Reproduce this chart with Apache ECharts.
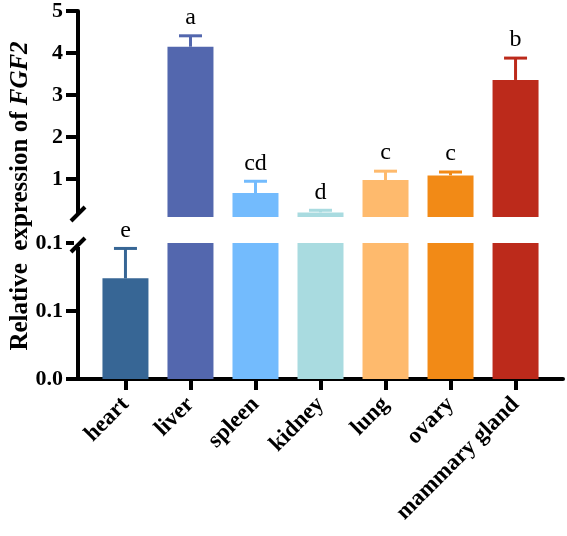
<!DOCTYPE html>
<html>
<head>
<meta charset="utf-8">
<script src="https://cdn.jsdelivr.net/npm/echarts@6/dist/echarts.min.js"></script>
<style>
  html, body { margin: 0; padding: 0; background: #fff; }
  #chart { width: 567px; height: 536px; }
</style>
</head>
<body>
<div id="chart"></div>
<script>
// tissues and FGF2 relative expression (mean, SD)
var categories = ['heart', 'liver', 'spleen', 'kidney', 'lung', 'ovary', 'mammary gland'];
var means = [0.074, 4.15, 0.67, 0.21, 0.98, 1.09, 3.36];
var errs = [0.022, 0.26, 0.28, 0.05, 0.21, 0.08, 0.52];
var letters = ['e', 'a', 'cd', 'd', 'c', 'c', 'b'];
var colors = ['#376695', '#5367ae', '#73bbfd', '#a9dbe0', '#feba6d', '#f28a16', '#bc2a1b'];
var upperTicks = [1, 2, 3, 4, 5];
var lowerTicks = [0, 0.05, 0.1];

var breakAt = 0.1;   // axis is split here
var FONT = '"Liberation Serif", "DejaVu Serif", serif';

// grids: upper 0.1-5, lower 0-0.1
var gridUp = { left: 78, right: 4, top: 10, bottom: 319 };
var gridLo = { left: 78, right: 4, top: 243, bottom: 157 };

var barData = means.map(function (v, i) {
  return { value: [i, v], itemStyle: { color: colors[i] } };
});
var errData = means.map(function (v, i) { return [i, v, v + errs[i]]; });
var errUp = errData.filter(function (d) { return d[2] >= breakAt; });
var errLo = errData.filter(function (d) { return d[2] < breakAt; });

function renderErr(params, api) {
  var i = api.value(0);
  var p0 = api.coord([i, api.value(1)]);
  var p1 = api.coord([i, api.value(2)]);
  var c = colors[i];
  return {
    type: 'group',
    children: [
      { type: 'line', shape: { x1: p0[0], y1: p0[1], x2: p1[0], y2: p1[1] }, style: { stroke: c, lineWidth: 3 } },
      { type: 'line', shape: { x1: p1[0] - 11.5, y1: p1[1], x2: p1[0] + 11.5, y2: p1[1] }, style: { stroke: c, lineWidth: 3 } },
      { type: 'text', style: { text: letters[i], x: p1[0], y: p1[1] - 6, align: 'center', verticalAlign: 'bottom',
        fontSize: 24, fontFamily: FONT, fill: '#000' } }
    ]
  };
}

var xCommon = {
  type: 'value', min: -0.73, max: 6.73,
  splitLine: { show: false }
};

var chart = echarts.init(document.getElementById('chart'));
chart.setOption({
  animation: false,
  grid: [gridUp, gridLo],
  xAxis: [
    Object.assign({ gridIndex: 0, show: false }, xCommon),
    Object.assign({
      gridIndex: 1,
      axisLine: { show: true, lineStyle: { color: '#000', width: 4 } },
      axisTick: { show: true, length: 11, customValues: [0, 1, 2, 3, 4, 5, 6], lineStyle: { color: '#000', width: 4 } },
      axisLabel: {
        customValues: [0, 1, 2, 3, 4, 5, 6], rotate: 45, margin: 22,
        fontSize: 23, fontWeight: 'bold', fontFamily: FONT, color: '#000',
        formatter: function (v) { return categories[Math.round(v)]; }
      }
    }, xCommon)
  ],
  yAxis: [
    {
      gridIndex: 0, type: 'value', min: breakAt, max: 5,
      splitLine: { show: false },
      axisLine: { show: true, onZero: false, lineStyle: { color: '#000', width: 4 } },
      axisTick: { show: true, length: 12, customValues: upperTicks, lineStyle: { color: '#000', width: 4 } },
      axisLabel: { customValues: upperTicks, margin: 15, fontSize: 22, fontWeight: 'bold', fontFamily: FONT, color: '#000' }
    },
    {
      gridIndex: 1, type: 'value', min: 0, max: breakAt, interval: 0.05,
      splitLine: { show: false },
      axisLine: { show: true, onZero: false, lineStyle: { color: '#000', width: 4 } },
      axisTick: { show: true, length: 12, lineStyle: { color: '#000', width: 4 } },
      axisLabel: { margin: 15, fontSize: 22, fontWeight: 'bold', fontFamily: FONT, color: '#000',
        formatter: function (v) { return v.toFixed(1); } }
    }
  ],
  series: [
    { type: 'bar', xAxisIndex: 0, yAxisIndex: 0, barWidth: 46, clip: true, data: barData },
    { type: 'bar', xAxisIndex: 1, yAxisIndex: 1, barWidth: 46, clip: true, data: barData },
    { type: 'custom', xAxisIndex: 0, yAxisIndex: 0, renderItem: renderErr, data: errUp, z: 3 },
    { type: 'custom', xAxisIndex: 1, yAxisIndex: 1, renderItem: renderErr, data: errLo, z: 3 }
  ]
});

// break marks and axis title
var yUpEnd = chart.convertToPixel({ yAxisIndex: 0 }, breakAt);
var yLoEnd = chart.convertToPixel({ yAxisIndex: 1 }, breakAt);
var ax = gridUp.left;
function slash(y) {
  return { type: 'line', shape: { x1: ax - 7, y1: y + 7, x2: ax + 7, y2: y - 7 },
    style: { stroke: '#000', lineWidth: 4 }, z: 10 };
}
chart.setOption({
  graphic: [
    { type: 'rect', shape: { x: ax - 4, y: yUpEnd - 4, width: 8, height: yLoEnd - yUpEnd + 8 },
      style: { fill: '#fff' }, z: 9 },
    slash(yUpEnd - 3),
    slash(yLoEnd + 2),
    {
      type: 'text', x: 21, y: 196, rotation: Math.PI / 2, z: 10,
      style: {
        text: 'Relative  expression of {i|FGF2}',
        align: 'center', verticalAlign: 'middle',
        fontSize: 25, fontWeight: 'bold', fontFamily: FONT, fill: '#000',
        rich: { i: { fontSize: 25, fontWeight: 'bold', fontStyle: 'italic', fontFamily: FONT, fill: '#000' } }
      }
    }
  ]
});
</script>
</body>
</html>
